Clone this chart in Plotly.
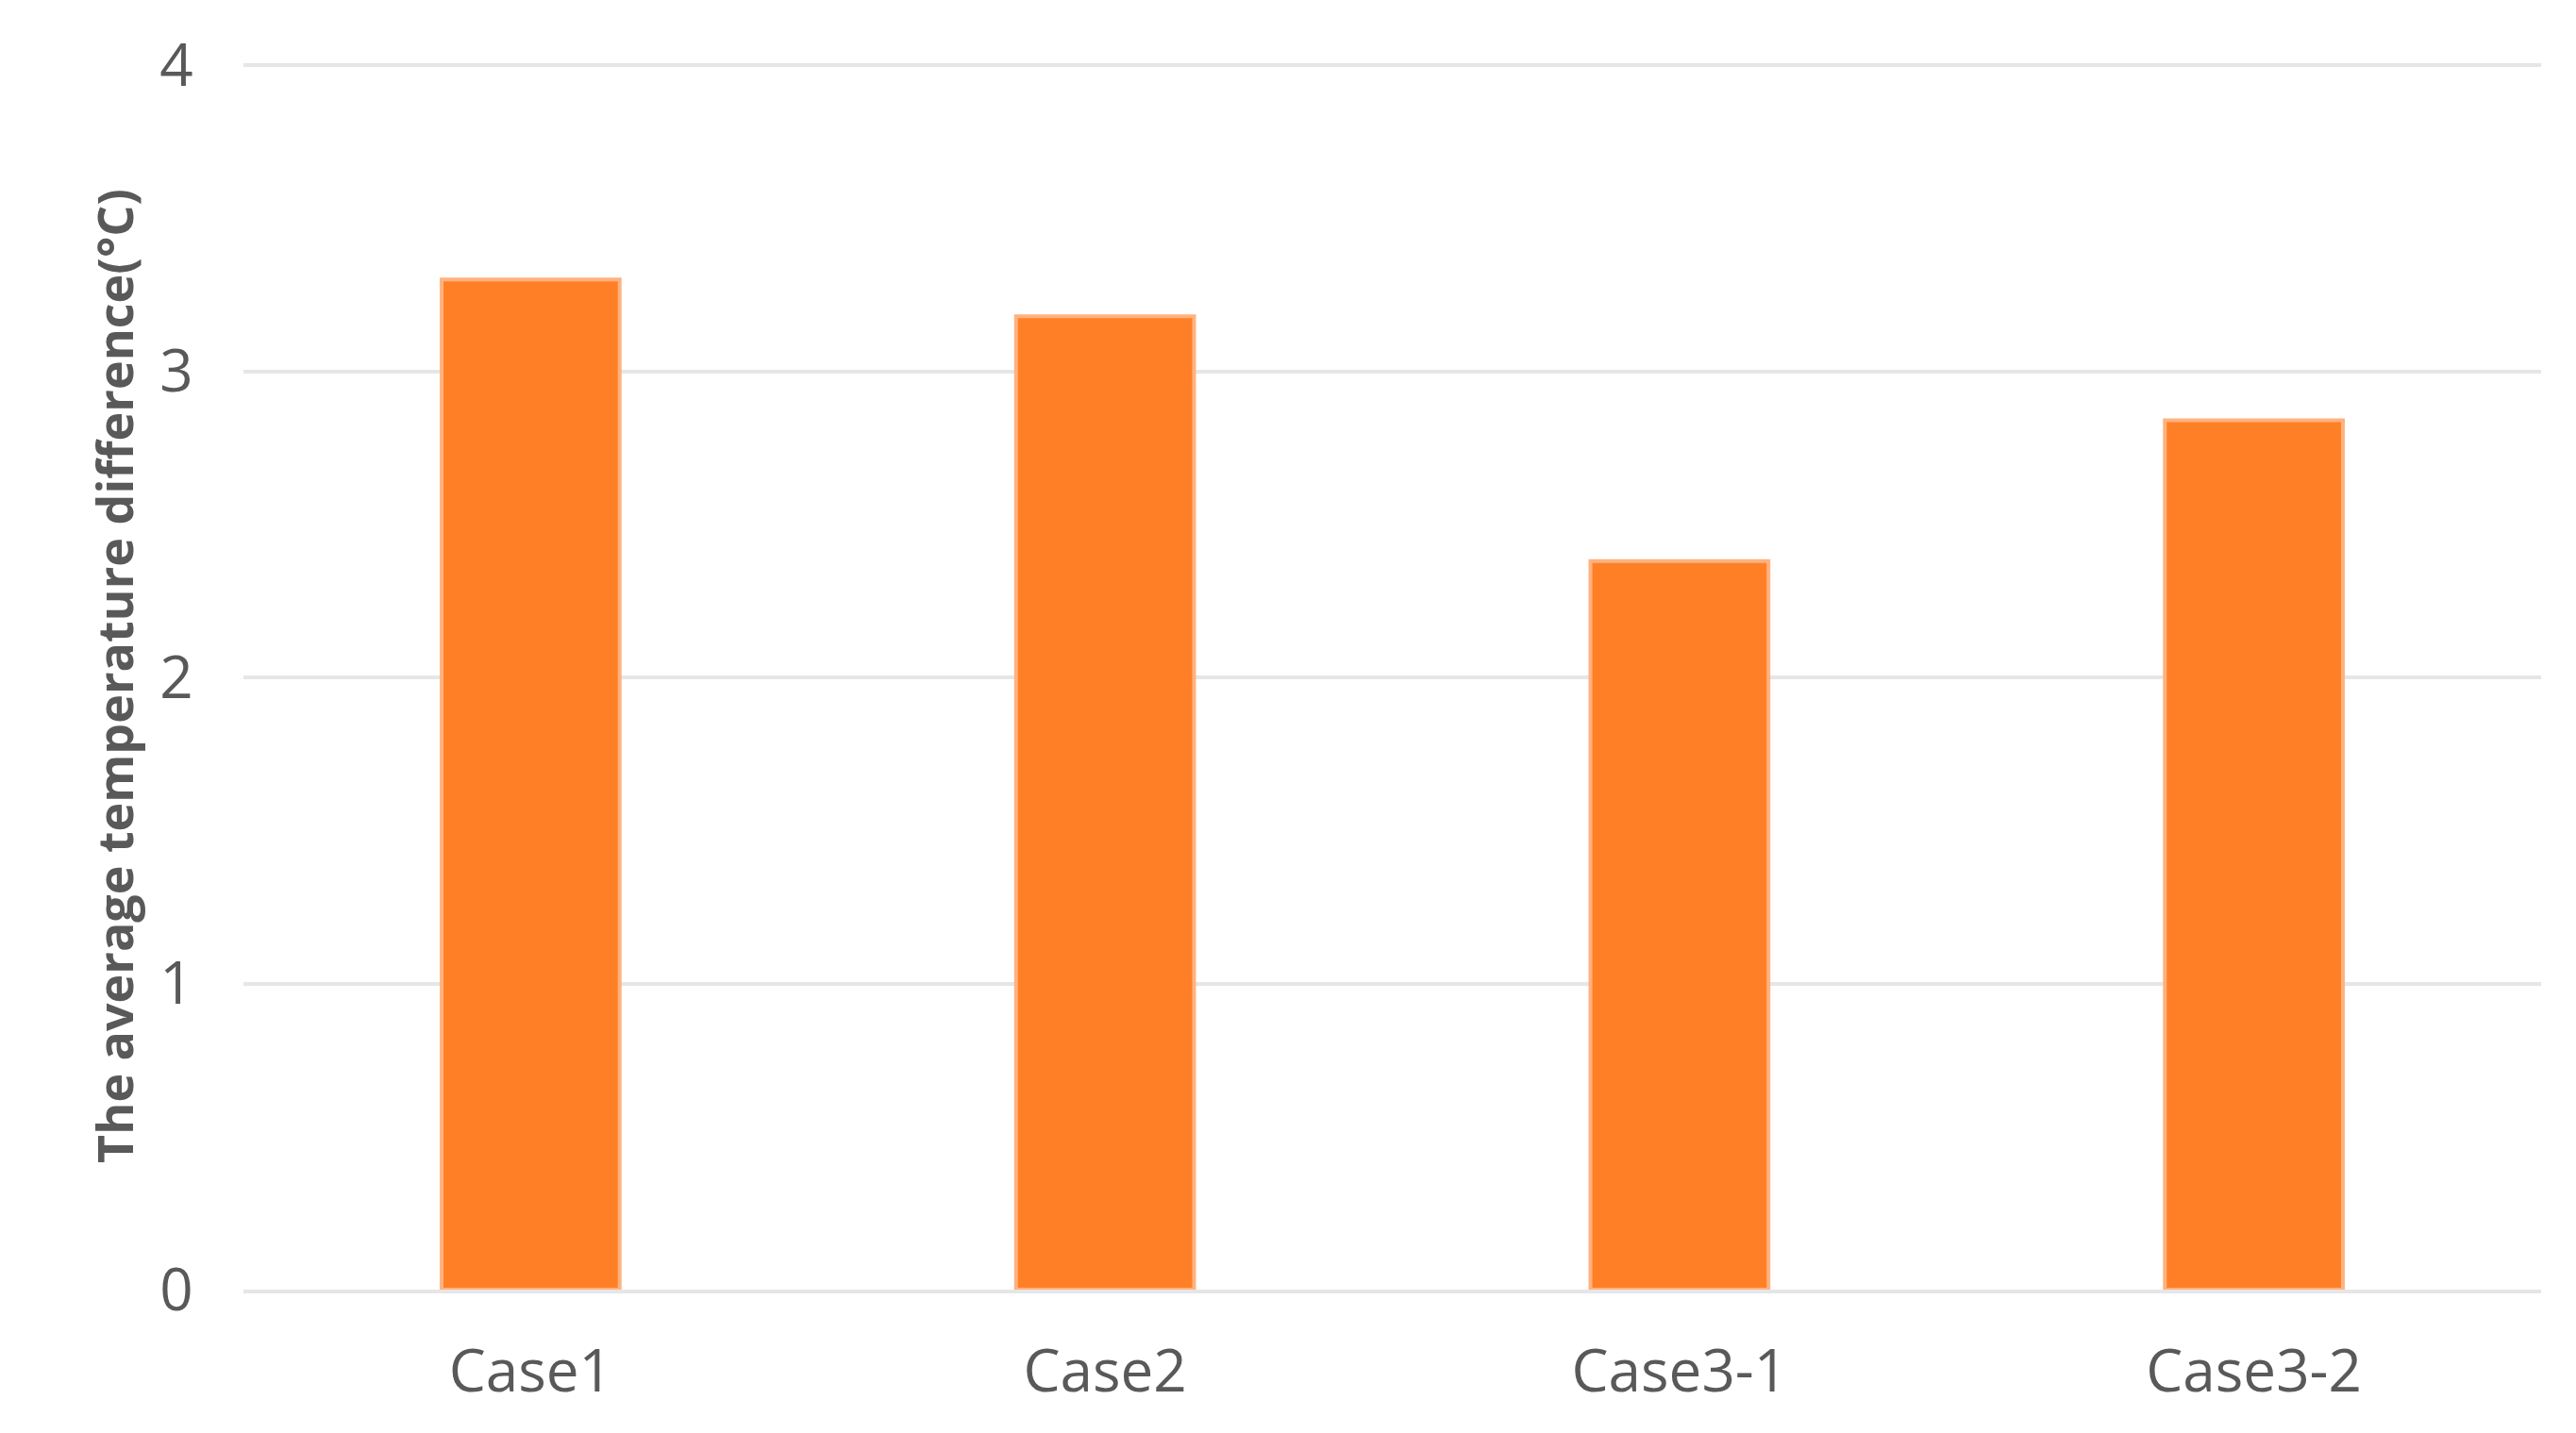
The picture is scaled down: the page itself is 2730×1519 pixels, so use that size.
import plotly.graph_objects as go

categories = ["Case1", "Case2", "Case3-1", "Case3-2"]
values = [3.30, 3.18, 2.38, 2.84]
y_ticks = [0, 1, 2, 3, 4]

fig = go.Figure(go.Bar(
    x=categories, y=values, width=0.31,
    marker=dict(color="#FF7F27", line=dict(color="#FFB27F", width=4)),
))
fig.update_layout(
    width=2730, height=1519, plot_bgcolor="white", paper_bgcolor="white",
    margin=dict(l=250, r=45, t=58, b=160),
    font=dict(family="Open Sans", color="#595959"),
    showlegend=False, bargap=0.69,
)
fig.update_xaxes(tickfont=dict(size=62), showline=True, linecolor="#E6E6E6", linewidth=4,
                 ticks="outside", ticklen=30, tickcolor="white")
fig.update_yaxes(range=[0, 4.01], tickvals=y_ticks, tickfont=dict(size=62), gridcolor="#E6E6E6", gridwidth=4,
                 zeroline=False, ticks="outside", ticklen=40, tickcolor="white",
                 title=dict(text="<b>The average temperature difference(°C)</b>", font=dict(size=52), standoff=10))
fig.write_html("out.html")
